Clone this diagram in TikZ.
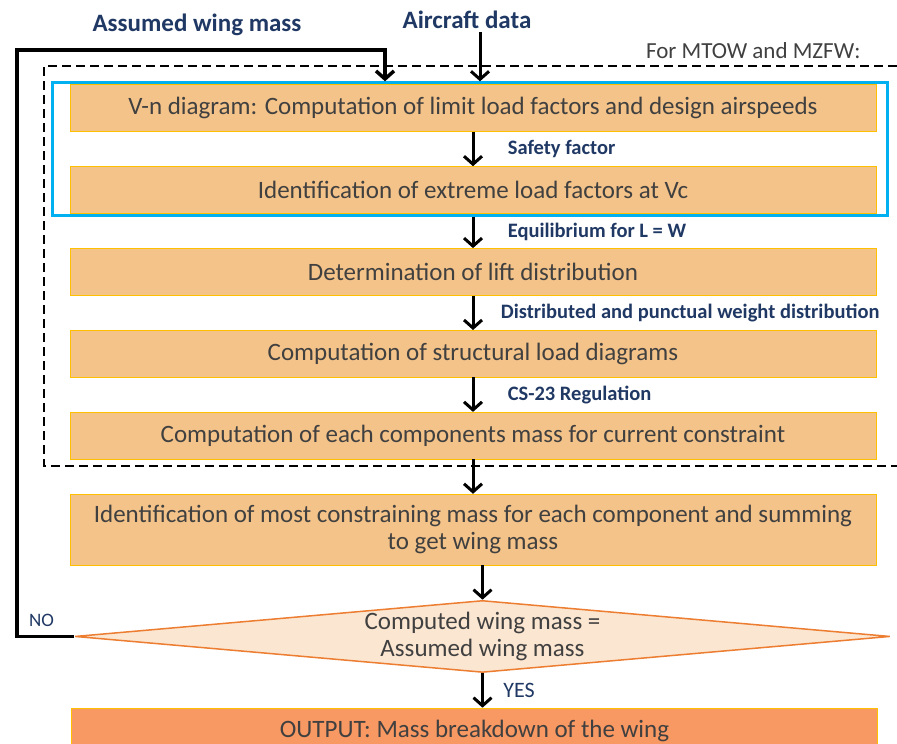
\documentclass[tikz,border=0pt]{standalone}
\usepackage{fontspec}
\setmainfont{Carlito}
\usetikzlibrary{positioning, arrows.meta, shapes.geometric, fit}
\definecolor{stepfill}{RGB}{244,195,137}
\definecolor{stepline}{RGB}{255,192,0}
\definecolor{steptext}{RGB}{64,64,64}
\definecolor{labelnavy}{RGB}{31,56,100}
\definecolor{frameblue}{RGB}{0,176,240}
\definecolor{checkfill}{RGB}{251,230,209}
\definecolor{checkline}{RGB}{237,125,49}
\definecolor{outfill}{RGB}{248,152,98}
\tikzstyle{process} = [rectangle, minimum width=806pt, minimum height=47pt, text centered, draw=stepline, fill=stepfill, text=steptext, font=\fontsize{25}{27}\selectfont]
\tikzstyle{decision} = [diamond, aspect=11, inner xsep=0pt, inner ysep=-6pt, minimum width=815pt, minimum height=72pt, align=center, draw=checkline, line width=1.5pt, fill=checkfill, text=steptext, font=\fontsize{25}{27}\selectfont]
\tikzstyle{arrow} = [line width=3pt, -{Straight Barb[length=8pt,width=18pt]}]
\tikzstyle{flowlabel} = [anchor=west, text=labelnavy, font=\bfseries\fontsize{20.5}{24}\selectfont]
\tikzstyle{inputlabel} = [text=labelnavy, font=\bfseries\fontsize{25}{28}\selectfont]

\begin{document}
\begin{tikzpicture}[x=1pt, y=-1pt, node distance=34.5pt]
            \useasboundingbox (0,0) rectangle (897,744);
            \clip (0,0) rectangle (897,744);

            \node (vn) [process] at (473,108) {V-n diagram: Computation of limit load factors and design airspeeds};
            \node (extreme) [process, below=of vn] {Identification of extreme load factors at Vc};
            \node (lift) [process, below=of extreme] {Determination of lift distribution};
            \node (loads) [process, below=of lift] {Computation of structural load diagrams};
            \node (compmass) [process, below=of loads] {Computation of each components mass for current constraint};
            \node (summing) [process, below=of compmass, minimum height=71pt, align=center] {Identification of most constraining mass for each component and summing\\to get wing mass};
            \node (check) [decision, below=of summing, xshift=9.5pt] {Computed wing mass =\\Assumed wing mass};
            \node (output) [process, below=of check, xshift=-8pt, fill=outfill] {OUTPUT: Mass breakdown of the wing};

            \node (frame) [fit=(vn)(extreme), draw=frameblue, line width=3pt, inner xsep=14pt, inner ysep=1.5pt, xshift=-3pt] {};

            \node (assumed) [inputlabel] at (197,25) {Assumed wing mass};
            \node (aircraft) [inputlabel] at (467,20) {Aircraft data};
            \node (mtow) [anchor=south east, text=steptext, font=\fontsize{23}{26}\selectfont] at (864,62) {For MTOW and MZFW:};

            % loop over both weights
            \draw [line width=2pt, dash pattern=on 9pt off 5pt] (897,66) -| (44,466) -- (897,466);

            \coordinate (loopcorner) at (17,50);
            \coordinate (massin) at (385,50);

            \draw [arrow] ([xshift=13pt]aircraft.south) -- ([xshift=13pt]aircraft.south |- frame.north);
            \draw [arrow, line width=3.5pt] (check.west) -| node[pos=0.25, above, xshift=-4pt, yshift=5pt, text=labelnavy, font=\fontsize{19}{22}\selectfont]{NO} (loopcorner) -- (massin) -- (massin |- frame.north);

            \draw [arrow] (vn) -- node[flowlabel, xshift=30pt]{Safety factor} (extreme);
            \draw [arrow] (frame.south -| extreme) -- node[flowlabel, xshift=30pt]{Equilibrium for L = W} (lift);
            \draw [arrow] (lift) -- node[flowlabel, xshift=23pt]{Distributed and punctual weight distribution} (loads);
            \draw [arrow] (loads) -- node[flowlabel, xshift=30pt]{CS-23 Regulation} (compmass);
            \draw [arrow] (compmass) -- (summing);
            \draw [arrow] (summing.south -| check) -- (check);
            \draw [arrow] (check) -- node[flowlabel, xshift=16pt, font=\fontsize{22}{25}\selectfont]{YES} (check.south |- output.north);

            \end{tikzpicture}
\end{document}
